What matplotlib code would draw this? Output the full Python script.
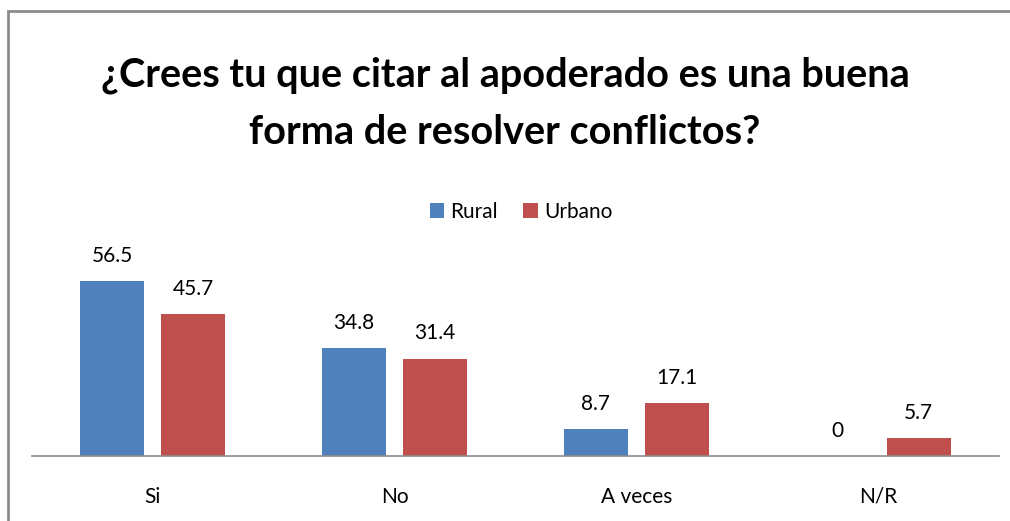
import numpy as np
import matplotlib.pyplot as plt
from matplotlib.patches import Rectangle

categorias = ["Si", "No", "A veces", "N/R"]
rural = [56.5, 34.8, 8.7, 0]
urbano = [45.7, 31.4, 17.1, 5.7]
etiquetas_rural = ["56.5", "34.8", "8.7", "0"]
etiquetas_urbano = ["45.7", "31.4", "17.1", "5.7"]

plt.rcParams['font.family'] = ['Lato', 'DejaVu Sans']

fig = plt.figure(figsize=(10.1, 5.21), dpi=100)
fig.patches.append(Rectangle((8/1010, -0.1), 1.1, (521-11)/521 + 0.1, transform=fig.transFigure,
                             fill=False, edgecolor='#8c8c8c', linewidth=2))

ax = fig.add_axes([32/1010, 65/521, 967/1010, 186/521])
x = np.arange(len(categorias))
w = 0.265
off = 0.035 + w/2
b1 = ax.bar(x - off, rural, w, color='#4F81BD', label='Rural')
b2 = ax.bar(x + off, urbano, w, color='#C0504D', label='Urbano')

for bars, labs in ((b1, etiquetas_rural), (b2, etiquetas_urbano)):
    for b, t in zip(bars, labs):
        ax.annotate(t, (b.get_x() + b.get_width()/2, b.get_height()), xytext=(0, 11),
                    textcoords='offset points', ha='center', va='bottom', fontsize=15)

ax.set_xlim(-0.5, len(categorias) - 0.5)
ax.set_ylim(0, 60)
ax.set_xticks(x)
ax.set_xticklabels(categorias, fontsize=15)
ax.tick_params(axis='x', length=0, pad=22)
ax.set_yticks([])
for s in ('top', 'right', 'left'):
    ax.spines[s].set_visible(False)
ax.spines['bottom'].set_color('#8c8c8c')
ax.spines['bottom'].set_linewidth(1.2)

fig.text(0.5, 1 - 75/521, "¿Crees tu que citar al apoderado es una buena", ha='center', va='center',
         fontsize=28.5, fontweight='bold')
fig.text(0.5, 1 - 133/521, "forma de resolver conflictos?", ha='center', va='center',
         fontsize=28.5, fontweight='bold')

fig.legend(loc='center', bbox_to_anchor=(521/1010, 1 - 212/521), ncol=2, frameon=False,
           fontsize=15, handlelength=0.7, handleheight=0.7, handletextpad=0.3, columnspacing=1.2)

fig.savefig('out.png', dpi=100)
